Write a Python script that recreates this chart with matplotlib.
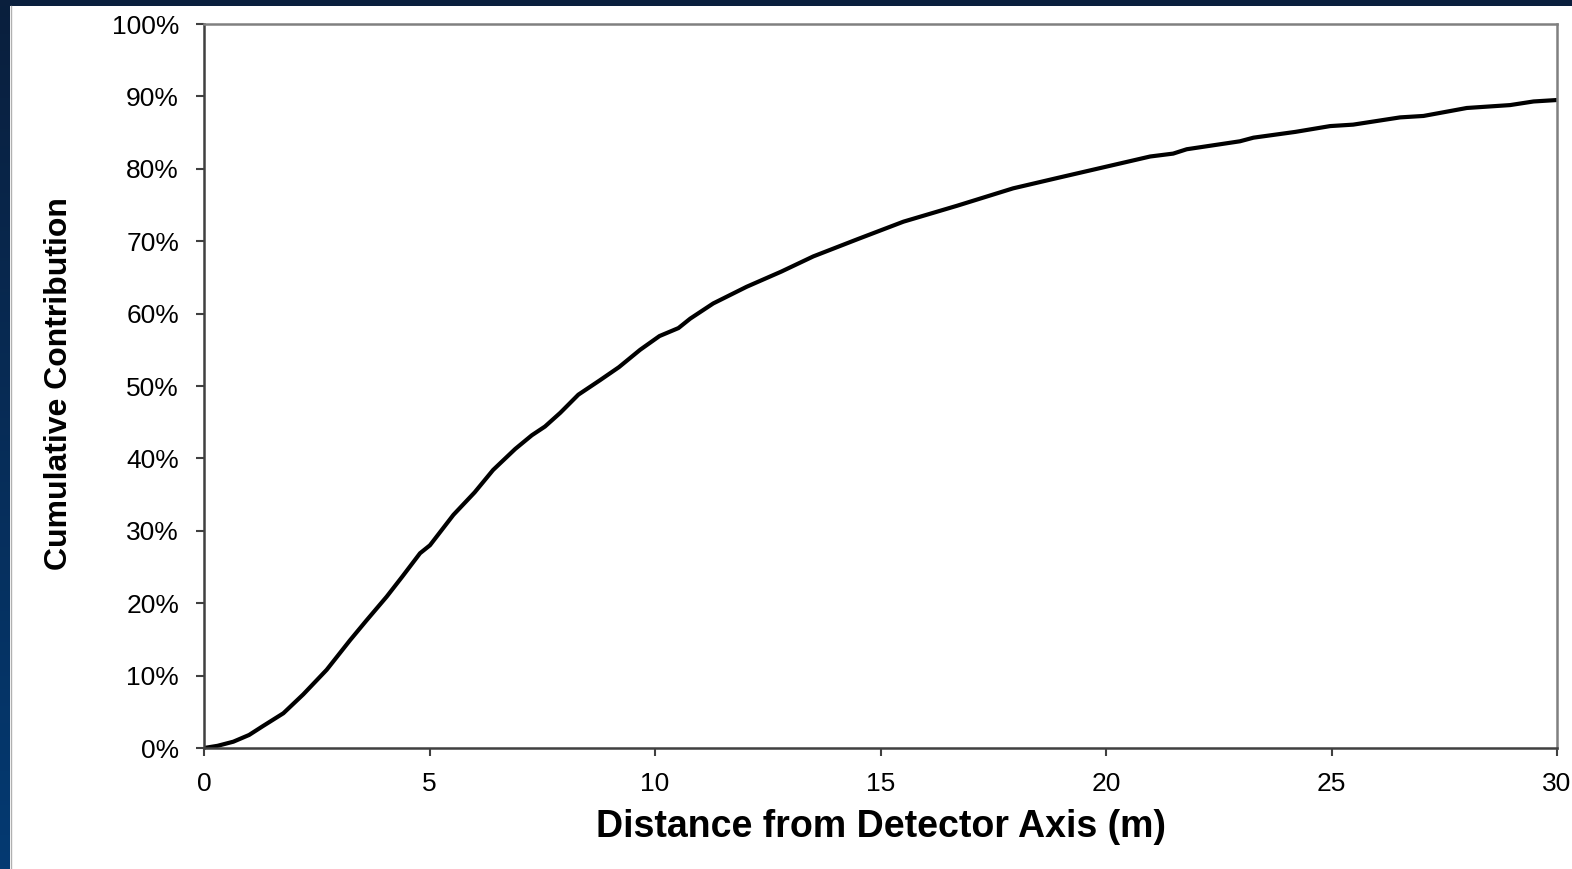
import numpy as np
import matplotlib.pyplot as plt
from matplotlib.ticker import PercentFormatter
from matplotlib.colors import LinearSegmentedColormap

# Valores (distancia en m, contribucion acumulada en %)
distancia = [0, 0.3, 0.65, 1.0, 1.3, 1.76, 2.2, 2.72, 3.24, 3.6, 4.05, 4.4,
             4.79, 5.01, 5.53, 6.0, 6.41, 6.9, 7.27, 7.56, 7.9, 8.30, 8.78,
             9.2, 9.67, 10.1, 10.52, 10.78, 11.29, 12.03, 12.8, 13.51, 14.5,
             15.51, 16.7, 17.94, 18.9, 19.87, 20.98, 21.49, 21.79, 22.97,
             23.27, 24.2, 24.97, 25.48, 26.52, 27.04, 28.0, 28.96, 29.48, 30.0]
contribucion = [0, 0.3, 0.87, 1.8, 3.0, 4.8, 7.4, 10.8, 14.9, 17.6, 20.9, 23.7,
                26.9, 28.0, 32.2, 35.3, 38.4, 41.3, 43.2, 44.4, 46.3, 48.8, 50.8,
                52.6, 55.0, 56.9, 58.0, 59.3, 61.4, 63.7, 65.8, 67.9, 70.3,
                72.7, 74.9, 77.3, 78.7, 80.1, 81.7, 82.1, 82.7, 83.8,
                84.3, 85.1, 85.9, 86.1, 87.1, 87.3, 88.4, 88.8, 89.3, 89.5]

xticks = [0, 5, 10, 15, 20, 25, 30]
yticks = [0, 10, 20, 30, 40, 50, 60, 70, 80, 90, 100]

plt.rcParams['font.family'] = ['Liberation Sans', 'DejaVu Sans']

fig = plt.figure(figsize=(15.72, 8.69), dpi=100, facecolor='white')

# Marco azul del fondo (izquierda y arriba)
franja = fig.add_axes([0, 0, 10 / 1572, 1])
grad = np.linspace(0, 1, 256).reshape(-1, 1)
cmap_azul = LinearSegmentedColormap.from_list('azul', ['#043a72', '#0a1f3d'])
franja.imshow(grad, aspect='auto', cmap=cmap_azul, origin='lower')
franja.axis('off')
arriba = fig.add_axes([0, 1 - 6 / 869, 1, 6 / 869])
arriba.set_facecolor('#0a1f3d')
arriba.set_xticks([])
arriba.set_yticks([])
for s in arriba.spines.values():
    s.set_visible(False)
fig.add_artist(plt.Line2D([10.5 / 1572, 10.5 / 1572], [0, 1 - 6 / 869],
                          color='#b0b0b0', lw=1))

# Grafica principal
ax = fig.add_axes([204 / 1572, 1 - 748 / 869, 1353 / 1572, 724 / 869])
ax.plot(distancia, contribucion, color='black', lw=3, solid_joinstyle='round')

ax.set_xlim(0, 30)
ax.set_ylim(0, 100)
ax.set_xticks(xticks)
ax.set_yticks(yticks)
ax.yaxis.set_major_formatter(PercentFormatter(decimals=0))
ax.tick_params(direction='out', length=6, width=1.5, labelsize=19, colors='#404040',
               labelcolor='black')
ax.tick_params(axis='y', pad=12)
ax.tick_params(axis='x', pad=11)

for lado in ['left', 'bottom']:
    ax.spines[lado].set_color('#404040')
    ax.spines[lado].set_linewidth(1.8)
for lado in ['top', 'right']:
    ax.spines[lado].set_color('#808080')
    ax.spines[lado].set_linewidth(1.8)

fig.text(881 / 1572, 1 - 827 / 869, 'Distance from Detector Axis (m)',
         ha='center', va='center', fontsize=27, fontweight='bold')
fig.text(59 / 1572, 1 - 384 / 869, 'Cumulative Contribution', rotation=90,
         ha='center', va='center', fontsize=23, fontweight='bold')

fig.savefig('out.png', dpi=100, facecolor='white')
